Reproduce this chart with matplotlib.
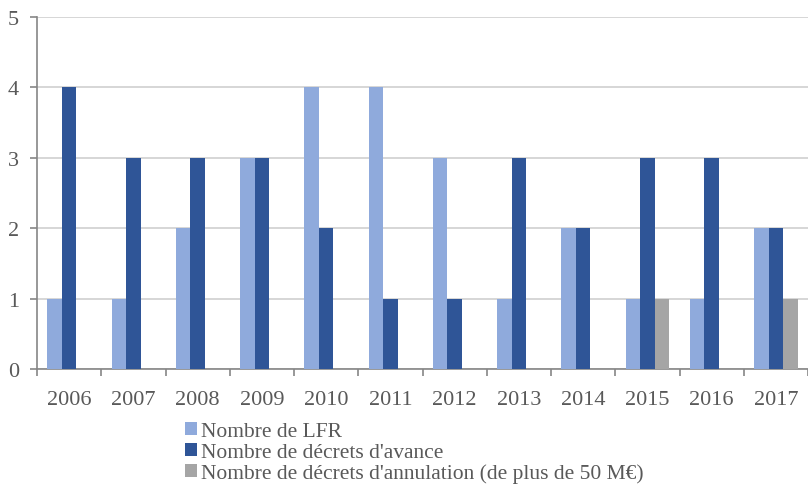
import matplotlib.pyplot as plt
import numpy as np

annees = ['2006', '2007', '2008', '2009', '2010', '2011', '2012', '2013', '2014', '2015', '2016', '2017']
nb_lfr = [1, 1, 2, 3, 4, 4, 3, 1, 2, 1, 1, 2]
nb_avance = [4, 3, 3, 3, 2, 1, 1, 3, 2, 3, 3, 2]
nb_annulation = [0, 0, 0, 0, 0, 0, 0, 0, 0, 1, 0, 1]

plt.rcParams['font.family'] = 'Liberation Serif'
gris = '#595959'

fig = plt.figure(figsize=(8.08, 4.85), dpi=100)
ax = fig.add_axes([37/808, 1 - 370/485, 1 - 37/808, 352/485])

x = np.arange(len(annees))
w = 0.225
ax.bar(x - w, nb_lfr, w, color='#8FAADC', label='Nombre de LFR', zorder=3)
ax.bar(x, nb_avance, w, color='#2F5597', label="Nombre de décrets d'avance", zorder=3)
ax.bar(x + w, nb_annulation, w, color='#A5A5A5',
       label="Nombre de décrets d'annulation (de plus de 50 M€)", zorder=3)

ax.set_xlim(-0.5, len(annees) - 0.5)
ax.set_ylim(0, 5)
ax.set_yticks(range(6))
ax.yaxis.grid(True, color='#D0D0D0', linewidth=1.2, zorder=0)

# ticks x entre les categories
ax.set_xticks(x)
ax.set_xticklabels(annees)
ax.set_xticks(np.arange(-0.5, len(annees) + 0.5, 1), minor=True)
ax.tick_params(axis='x', which='major', length=0, pad=15, labelsize=16, labelcolor=gris)
ax.tick_params(axis='x', which='minor', length=5, color='#868686', width=1.2)
ax.tick_params(axis='y', length=5, color='#868686', width=1.2, pad=8, labelsize=16, labelcolor=gris)

for s in ['top', 'right']:
    ax.spines[s].set_visible(False)
for s in ['left', 'bottom']:
    ax.spines[s].set_color('#868686')
    ax.spines[s].set_linewidth(1.2)

fig.legend(loc='upper left', bbox_to_anchor=(185/808, 1 - 423/485), frameon=False,
           fontsize=15.5, labelcolor=gris, handlelength=0.55, handleheight=0.55,
           handletextpad=0.2, labelspacing=0.08, borderpad=0, borderaxespad=0)

fig.savefig('out.png', dpi=100)
